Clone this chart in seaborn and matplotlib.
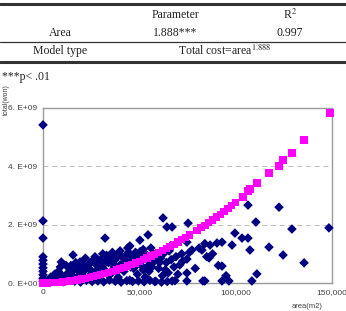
import numpy as np
import pandas as pd
import seaborn as sns
import matplotlib.pyplot as plt
from matplotlib.lines import Line2D

sns.set_theme(style="white")
plt.rcParams["font.family"] = ["Liberation Sans", "DejaVu Sans"]
plt.rcParams["mathtext.fontset"] = "stix"

# observed data: area (thousand m2), total (1e9 won)
obs_area = [0, 0, 0, 0, 0, 0, 0, 0, 0, 0, 0, 0.5,
            2, 3, 4, 5, 6, 7, 8, 9, 9.5, 10, 11, 12, 13, 14, 15.6, 16, 17, 18, 19.2, 20,
            21, 22, 23, 24, 25, 26, 27, 28, 29, 30, 31, 32.2, 32, 33, 34, 35, 36, 37, 38,
            39, 40, 41, 42, 43, 44, 45, 45.1, 46, 47, 48, 49, 50.3, 50, 51, 52, 53, 54.5,
            54, 55, 56, 57, 58, 59, 60, 61, 62.3, 62, 63, 64.3, 64, 65, 66, 67, 67, 68, 69,
            71, 72, 74.7, 74.7, 74.7, 74.7, 75.3, 77.3, 82.5, 83, 84, 86.2, 86.7, 84, 90.3,
            92.9, 92.9, 92.9, 96.5, 98.1, 99.6, 103.3, 106.4, 106.4, 107.4, 108.4, 110.5,
            111, 117.3, 122.5, 124.6, 129.2, 135.5, 148.4,
            4.5, 7.5, 10.5, 13.5, 16.5, 19.5, 22.5, 25.5, 28.5, 31.5, 34.5, 37.5, 40.5,
            43.5, 46.5, 49.5, 52.5, 55.5, 58.5, 61.5, 64.5, 68.5,
            6.5, 9, 12.5, 15, 18.5, 21.5, 24.5, 27.5, 30.5, 33.5, 36.5, 39.5, 42.5, 45.5,
            48.5, 51.5, 54.5, 57.5, 60.5, 63.5, 66.5,
            14.5, 18, 23.5, 26.5, 29.5, 33, 35.5, 38.5, 41.5, 44.5, 47.5, 50.5, 53.5,
            56.5, 59.5, 62.5, 65.5, 70, 72.5, 76, 79, 81, 85, 88, 91, 95,
            20.5, 25, 28, 31, 34, 37, 40, 43, 46, 49, 52, 55, 58]
obs_total = [5.42, 2.13, 1.54, 0.9, 0.78, 0.65, 0.52, 0.4, 0.28, 0.16, 0.06, 0.02,
             0.05, 0.12, 0.2, 0.08, 0.3, 0.15, 0.4, 0.55, 0.72, 0.25, 0.1, 0.6, 0.35, 0.5,
             0.96, 0.2, 0.7, 0.45, 0.72, 0.3, 0.6, 0.85, 0.15, 0.5, 0.72, 0.35, 0.9, 0.6,
             0.2, 0.8, 1.0, 1.54, 0.45, 0.95, 0.7, 0.3, 1.05, 0.55, 0.85, 0.2, 1.1, 0.65,
             0.4, 0.95, 1.2, 0.1, 1.27, 0.75, 0.5, 1.05, 0.3, 1.47, 0.85, 0.6, 1.15, 0.2,
             1.65, 0.95, 0.4, 1.2, 0.7, 0.05, 1.0, 0.5, 0.85, 2.23, 0.25, 1.1, 1.92, 0.7,
             0.35, 1.25, 1.92, 0.07, 0.55, 0.9, 0.62, 1.0, 1.4, 0.82, 0.34, 0.07, 2.05,
             1.13, 1.13, 0.07, 0.07, 0.86, 1.3, 1.35, 1.37, 1.4, 0.58, 0.07, 0.07, 1.3,
             1.71, 1.54, 1.54, 2.67, 1.13, 0.07, 2.09, 0.31, 1.23, 2.6, 0.96, 1.85, 0.69,
             1.89,
             0.05, 0.08, 0.04, 0.1, 0.06, 0.03, 0.09, 0.05, 0.07, 0.04, 0.1, 0.06, 0.03,
             0.08, 0.05, 0.07, 0.04, 0.09, 0.06, 0.03, 0.05, 0.08,
             0.22, 0.18, 0.28, 0.38, 0.26, 0.42, 0.24, 0.4, 0.5, 0.3, 0.66, 0.46, 0.8,
             0.55, 0.62, 0.92, 0.5, 0.98, 0.7, 0.45, 0.8,
             0.6, 0.55, 0.62, 0.8, 0.62, 0.78, 0.88, 0.98, 0.88, 1.05, 0.9, 1.08, 0.85,
             0.55, 0.8, 1.0, 1.1, 0.3, 0.75, 1.05, 0.5, 1.2, 0.9, 1.0, 0.6, 0.25,
             0.45, 0.3, 0.75, 0.6, 0.9, 0.78, 0.62, 0.75, 0.9, 0.72, 0.45, 0.62, 0.78]

# fitted data: total cost = area^1.888
fit_area = [0, 2, 4, 6, 8, 10, 12, 14, 16, 18, 20, 22, 24, 26, 28, 30, 32, 34, 36, 38,
            40, 42, 44, 46, 48, 50, 52, 54, 56, 58, 60, 62, 64, 66, 68, 70, 72, 74, 76,
            80, 82, 84, 86, 88, 90, 92, 94, 96, 98, 100,
            103.8, 106.4, 107.4, 111, 117.3, 122.5, 124.6, 129.2, 135.5, 148.9]
fit_total = [0.0, 0.0017, 0.0063, 0.0136, 0.0234, 0.0356, 0.0503, 0.0673, 0.0866,
             0.1081, 0.1319, 0.1579, 0.1861, 0.2165, 0.2491, 0.2837, 0.3205, 0.3594,
             0.4003, 0.4434, 0.4884, 0.5355, 0.5846, 0.6357, 0.689, 0.7442, 0.8014,
             0.8606, 0.9218, 0.9848, 1.05, 1.117, 1.186, 1.257, 1.33, 1.405, 1.481, 1.56,
             1.64, 1.807, 1.893, 1.982, 2.072, 2.163, 2.257, 2.353, 2.451, 2.55, 2.651,
             2.754, 2.95, 3.15, 3.22, 3.43, 3.77, 4.01, 4.22, 4.46, 4.9, 5.83]

xticks = [0, 50000, 100000, 150000]
xticklabels = ["0", "50,000", "100,000", "150,000"]
yticks = [0, 2e9, 4e9, 6e9]
yticklabels = ["0. E+00", "2. E+09", "4. E+09", "6. E+09"]

obs = pd.DataFrame({"area": np.array(obs_area) * 1000, "total": np.array(obs_total) * 1e9})
fit = pd.DataFrame({"area": np.array(fit_area) * 1000, "total": np.array(fit_total) * 1e9})

fig = plt.figure(figsize=(3.46, 3.11), dpi=100)
ax = fig.add_axes([43 / 346, 1 - 283 / 311, 289 / 346, 175 / 311])

sns.scatterplot(data=obs, x="area", y="total", marker="D", s=24, color="#000080",
                edgecolor="none", ax=ax, clip_on=False, zorder=3)
sns.scatterplot(data=fit, x="area", y="total", marker="s", s=28, color="#FF00FF",
                edgecolor="none", ax=ax, clip_on=False, zorder=4)

ax.set_xlim(0, 150000)
ax.set_ylim(0, 6e9)
ax.set_xticks(xticks)
ax.set_xticklabels(xticklabels)
ax.set_yticks(yticks)
ax.set_yticklabels(yticklabels)
ax.tick_params(axis="both", length=0, labelsize=6, colors="#444444", pad=4)
for y in yticks[1:3]:
    ax.axhline(y, color="#BBBBBB", lw=0.7, ls=(0, (5, 4)), zorder=1)
for sp in ax.spines.values():
    sp.set_color("#9A9A9A")
    sp.set_linewidth(1.0)
ax.set_xlabel("")
ax.set_ylabel("")
fig.text(6 / 346, 1 - 100 / 311, "total(won)", rotation=90, ha="center", va="center",
         fontsize=5, color="#444444")
fig.text(307 / 346, 1 - 307 / 311, "area(m2)", ha="center", va="center",
         fontsize=5.5, color="#444444")

# table above the chart
serif = ["Liberation Serif", "DejaVu Serif"]
for yy, lw in [(4, 2.2), (42, 0.9), (62, 2.2)]:
    fig.add_artist(Line2D([0, 1], [1 - yy / 311, 1 - yy / 311], color="#333333", lw=lw,
                          transform=fig.transFigure))
fs = 8.5
fig.text(175 / 346, 1 - 15 / 311, "Parameter", ha="center", va="center", fontsize=fs, family=serif, color="#222222")
fig.text(290 / 346, 1 - 15 / 311, r"R$^2$", ha="center", va="center", fontsize=fs, family=serif, color="#222222")
fig.text(60 / 346, 1 - 33 / 311, "Area", ha="center", va="center", fontsize=fs, family=serif, color="#222222")
fig.text(175 / 346, 1 - 33 / 311, "1.888***", ha="center", va="center", fontsize=fs, family=serif, color="#222222")
fig.text(290 / 346, 1 - 33 / 311, "0.997", ha="center", va="center", fontsize=fs, family=serif, color="#222222")
fig.text(60 / 346, 1 - 51 / 311, "Model type", ha="center", va="center", fontsize=fs, family=serif, color="#222222")
fig.text(225 / 346, 1 - 51 / 311, r"Total cost=area$^{1.888}$", ha="center", va="center", fontsize=fs, family=serif, color="#222222")
fig.text(2 / 346, 1 - 77 / 311, "***p< .01", ha="left", va="center", fontsize=fs, family=serif, color="#222222")

plt.savefig("out.png", dpi=100)
